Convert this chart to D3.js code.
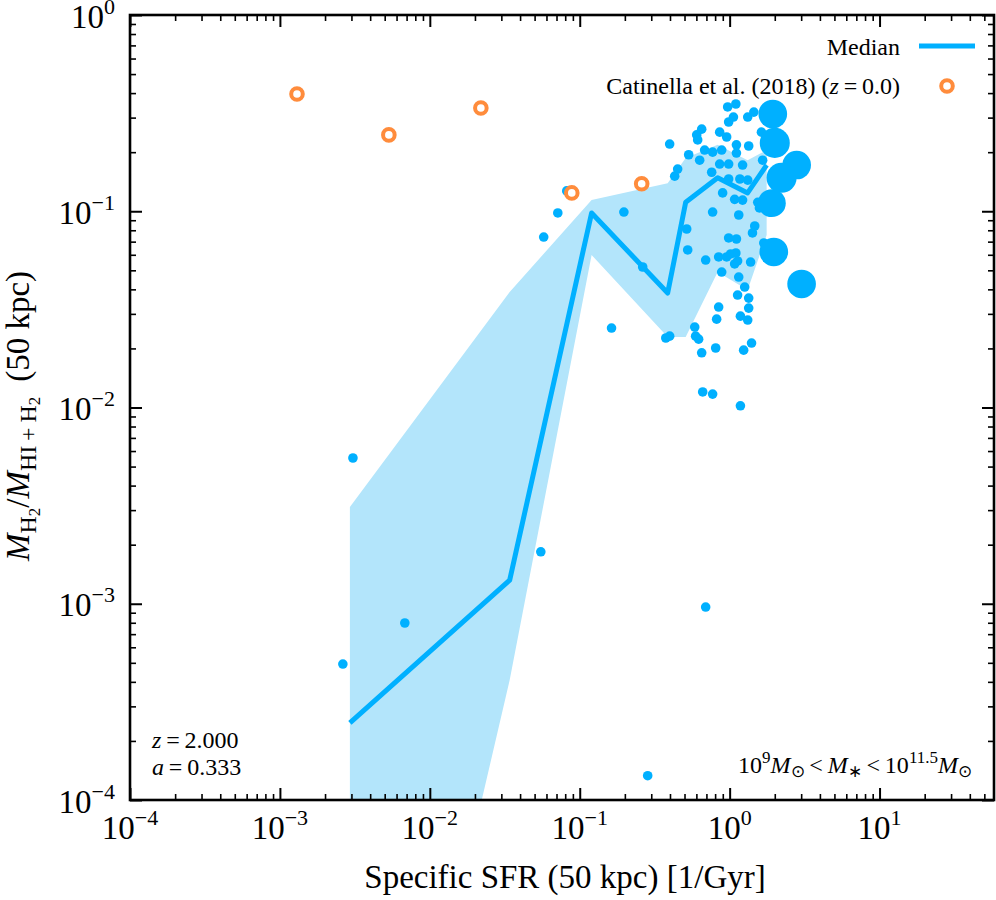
<!DOCTYPE html>
<html><head><meta charset="utf-8">
<script src="https://cdn.jsdelivr.net/npm/d3@7"></script>
<style>
body{margin:0;background:#fff}
svg{display:block}
text{font-family:"Liberation Serif","Times New Roman",serif;fill:#000}
</style>
</head><body>
<svg id="chart" width="996" height="900"></svg>
<script>
// ---------------- data ----------------
const xDomain = [1e-4, 58];
const yDomain = [1e-4, 1];
const xMajor = [1e-4, 1e-3, 1e-2, 1e-1, 1, 10];
const xMajorExp = ["\u22124", "\u22123", "\u22122", "\u22121", "0", "1"];
const yMajor = [1e-4, 1e-3, 1e-2, 1e-1, 1];
const yMajorExp = ["\u22124", "\u22123", "\u22122", "\u22121", "0"];

// median relation
const medX = [0.00293, 0.0341, 0.120, 0.386, 0.509, 0.832, 1.318, 1.765];
const medY = [0.000247, 0.00132, 0.098, 0.0383, 0.111, 0.148, 0.124, 0.172];
// 16-84 percentile band
const bandX  = [0.00293, 0.0341, 0.120, 0.386, 0.509, 0.832, 1.318, 1.765];
const bandLo = [1.3e-7, 0.000409, 0.0598, 0.0229, 0.0229, 0.049, 0.0397, 0.0757];
const bandHi = [0.00311, 0.0388, 0.114, 0.139, 0.187, 0.218, 0.182, 0.205];

// simulated galaxies
const sfrX = [
  0.00307, 0.00263, 0.00681, 0.0550, 0.692, 0.284, 1.18, 0.661, 0.770, 0.0575,
  0.0714, 0.0819, 0.163, 0.197, 0.263, 0.375, 0.398, 0.585, 0.593, 0.621,
  0.651, 0.807, 1.24, 1.40, 0.845, 0.819, 1.18, 1.32, 1.34, 1.34,
  1.13, 1.26, 1.15, 0.885, 1.38, 0.692, 0.845, 0.955, 1.015, 1.10,
  1.13, 1.08, 0.525, 0.517, 0.985, 1.11, 1.69, 1.47, 1.42, 0.770,
  1.15, 0.898, 1.08, 1.22, 1.54, 1.58, 0.985, 1.17, 1.32, 0.759,
  0.858, 0.985, 1.22, 0.631, 0.450, 0.430, 0.533, 0.398, 0.681, 0.770,
  0.885, 1.11, 1.11, 1.34, 0.603, 0.651, 0.612, 0.858, 0.955, 0.970,
  1.10, 1.06, 0.985, 1.32, 1.45, 1.63, 1.66,
  1.94, 2.00, 2.80, 2.22, 1.91, 1.97, 3.02
];
const fracY = [
  0.00553, 0.000493, 0.000798, 0.00184, 0.000962, 0.000133, 0.0102, 0.0120, 0.0117, 0.0739,
  0.098, 0.127, 0.0254, 0.0991, 0.0520, 0.0226, 0.0231, 0.0257, 0.0231, 0.0223,
  0.0190, 0.0201, 0.0196, 0.0213, 0.0325, 0.0282, 0.0292, 0.0279, 0.0321, 0.0361,
  0.0374, 0.0411, 0.0462, 0.049, 0.0551, 0.0564, 0.0585, 0.0585, 0.0606, 0.0613,
  0.0558, 0.0539, 0.0635, 0.0812, 0.0731, 0.0722, 0.0689, 0.0841, 0.0775, 0.0991,
  0.0957, 0.124, 0.115, 0.114, 0.111, 0.104, 0.146, 0.146, 0.144, 0.158,
  0.174, 0.174, 0.172, 0.182, 0.164, 0.151, 0.194, 0.220, 0.205, 0.200,
  0.205, 0.218, 0.198, 0.215, 0.245, 0.262, 0.231, 0.253, 0.239, 0.340,
  0.352, 0.302, 0.285, 0.302, 0.320, 0.253, 0.182,
  0.313, 0.223, 0.172, 0.148, 0.110, 0.0620, 0.0426
];
const weight = [
  1,1,1,1,1,1,1,1,1,1, 1,1,1,1,1,1,1,1,1,1,
  1,1,1,1,1,1,1,1,1,1, 1,1,1,1,1,1,1,1,1,1,
  1,1,1,1,1,1,1,1,1,1, 1,1,1,1,1,1,1,1,1,1,
  1,1,1,1,1,1,1,1,1,1, 1,1,1,1,1,1,1,1,1,1,
  1,1,1,1,1,1,1,
  8.9, 9.8, 8.9, 9.8, 8.5, 8.9, 8.9
];

// Catinella et al. (2018)
const catX = [0.00130, 0.00533, 0.0219, 0.0885, 0.259];
const catY = [0.396, 0.245, 0.336, 0.124, 0.138];

// ---------------- drawing ----------------
const BLUE = "#00b0ff", BAND = "#b3e5fb", ORANGE = "#ff8c3c";
const L = 130, R = 994, T = 15, B = 800;
const svg = d3.select("#chart");
const x = d3.scaleLog().domain(xDomain).range([L, R]);
const y = d3.scaleLog().domain(yDomain).range([B, T]);
const rScale = d3.scaleSqrt().domain([0, 1]).range([0, 4.8]);

svg.append("defs").append("clipPath").attr("id", "clip")
  .append("rect").attr("x", L).attr("y", T).attr("width", R - L).attr("height", B - T);
const plot = svg.append("g").attr("clip-path", "url(#clip)");

// band
const bandData = bandX.map((v, i) => ({x: v, lo: bandLo[i], hi: bandHi[i]}));
plot.append("path").datum(bandData)
  .attr("fill", BAND)
  .attr("d", d3.area().x(d => x(d.x)).y0(d => y(d.lo)).y1(d => y(d.hi)));

// median
const medData = medX.map((v, i) => ({x: v, y: medY[i]}));
plot.append("path").datum(medData)
  .attr("fill", "none").attr("stroke", BLUE).attr("stroke-width", 5)
  .attr("stroke-linejoin", "round")
  .attr("d", d3.line().x(d => x(d.x)).y(d => y(d.y)));

// scatter
const pts = sfrX.map((v, i) => ({x: v, y: fracY[i], w: weight[i]}));
plot.append("g").selectAll("circle").data(pts).join("circle")
  .attr("cx", d => x(d.x)).attr("cy", d => y(d.y)).attr("r", d => rScale(d.w))
  .attr("fill", BLUE);

// catinella
const cat = catX.map((v, i) => ({x: v, y: catY[i]}));
plot.append("g").selectAll("circle").data(cat).join("circle")
  .attr("cx", d => x(d.x)).attr("cy", d => y(d.y)).attr("r", 5.8)
  .attr("fill", "#fff").attr("stroke", ORANGE).attr("stroke-width", 4);

// ---------------- axes ----------------
function minorTicks(domain) {
  const out = [];
  for (let e = -6; e <= 3; e++) for (let k = 2; k <= 9; k++) {
    const v = k * Math.pow(10, e);
    if (v > domain[0] && v < domain[1]) out.push(v);
  }
  return out;
}
const xMinor = minorTicks(xDomain), yMinor = minorTicks(yDomain);

function styleAxis(g, w) {
  g.select(".domain").remove();
  g.selectAll(".tick line").attr("stroke", "#000").attr("stroke-width", w);
  g.selectAll(".tick text").remove();
}
const axes = [
  [d3.axisBottom, x, `translate(0,${B})`, xMajor, xMinor],
  [d3.axisTop, x, `translate(0,${T})`, xMajor, xMinor],
  [d3.axisLeft, y, `translate(${L},0)`, yMajor, yMinor],
  [d3.axisRight, y, `translate(${R},0)`, yMajor, yMinor]
];
axes.forEach(([fn, sc, tr, maj, min]) => {
  svg.append("g").attr("transform", tr)
    .call(fn(sc).tickValues(maj).tickSizeInner(-12).tickSizeOuter(0).tickFormat(""))
    .call(g => styleAxis(g, 2));
  svg.append("g").attr("transform", tr)
    .call(fn(sc).tickValues(min).tickSizeInner(-6).tickSizeOuter(0).tickFormat(""))
    .call(g => styleAxis(g, 1.6));
});

svg.append("rect").attr("x", L).attr("y", T).attr("width", R - L).attr("height", B - T)
  .attr("fill", "none").attr("stroke", "#000").attr("stroke-width", 2.6);

// tick labels
xMajor.forEach((v, i) => {
  const t = svg.append("text").attr("x", x(v)).attr("y", 839)
    .attr("text-anchor", "middle").attr("font-size", 33);
  t.append("tspan").text("10");
  t.append("tspan").attr("font-size", 22).attr("dy", -14).text(xMajorExp[i]);
});
yMajor.forEach((v, i) => {
  const t = svg.append("text").attr("x", 115).attr("y", y(v) + 12.5)
    .attr("text-anchor", "end").attr("font-size", 33);
  t.append("tspan").text("10");
  t.append("tspan").attr("font-size", 22).attr("dy", -14).text(yMajorExp[i]);
});

// axis titles
svg.append("text").attr("x", 565).attr("y", 888).attr("text-anchor", "middle")
  .attr("font-size", 33).text("Specific SFR (50 kpc) [1/Gyr]");

const yl = svg.append("text").attr("transform", "translate(29,416) rotate(-90)")
  .attr("text-anchor", "middle").attr("font-size", 33);
yl.append("tspan").attr("font-style", "italic").text("M");
yl.append("tspan").attr("font-size", 24).attr("dy", 7).text("H");
yl.append("tspan").attr("font-size", 17).attr("dy", 4).text("2");
yl.append("tspan").attr("dy", -11).text("/");
yl.append("tspan").attr("font-style", "italic").text("M");
yl.append("tspan").attr("font-size", 24).attr("dy", 7).text("HI\u2009+\u2009H");
yl.append("tspan").attr("font-size", 17).attr("dy", 4).text("2");
yl.append("tspan").attr("dy", -11).text("\u00a0\u2009(50 kpc)");

// legend
svg.append("text").attr("x", 900).attr("y", 55).attr("text-anchor", "end")
  .attr("font-size", 24).text("Median");
svg.append("line").attr("x1", 919).attr("x2", 975).attr("y1", 46).attr("y2", 46)
  .attr("stroke", BLUE).attr("stroke-width", 5);
const lg = svg.append("text").attr("x", 900).attr("y", 94).attr("text-anchor", "end")
  .attr("font-size", 24);
lg.append("tspan").text("Catinella et al. (2018) (");
lg.append("tspan").attr("font-style", "italic").text("z");
lg.append("tspan").text("\u2009=\u20090.0)");
svg.append("circle").attr("cx", 947).attr("cy", 86).attr("r", 5.8)
  .attr("fill", "#fff").attr("stroke", ORANGE).attr("stroke-width", 4);

// annotations
const z1 = svg.append("text").attr("x", 152).attr("y", 748).attr("font-size", 24);
z1.append("tspan").attr("font-style", "italic").text("z");
z1.append("tspan").text("\u2009=\u20092.000");
const a1 = svg.append("text").attr("x", 152).attr("y", 775).attr("font-size", 24);
a1.append("tspan").attr("font-style", "italic").text("a");
a1.append("tspan").text("\u2009=\u20090.333");

const ms = svg.append("text").attr("x", 972).attr("y", 773).attr("text-anchor", "end")
  .attr("font-size", 24);
ms.append("tspan").text("10");
ms.append("tspan").attr("font-size", 17).attr("dy", -10).text("9");
ms.append("tspan").attr("font-style", "italic").attr("dy", 10).text("M");
ms.append("tspan").attr("font-size", 17).attr("dy", 4).text("\u2299");
ms.append("tspan").attr("dy", -4).text("\u2009<\u2009");
ms.append("tspan").attr("font-style", "italic").text("M");
ms.append("tspan").attr("font-size", 17).attr("dy", 4).text("\u2217");
ms.append("tspan").attr("dy", -4).text("\u2009<\u200910");
ms.append("tspan").attr("font-size", 17).attr("dy", -10).text("11.5");
ms.append("tspan").attr("font-style", "italic").attr("dy", 10).text("M");
ms.append("tspan").attr("font-size", 17).attr("dy", 4).text("\u2299");
</script>
</body></html>
